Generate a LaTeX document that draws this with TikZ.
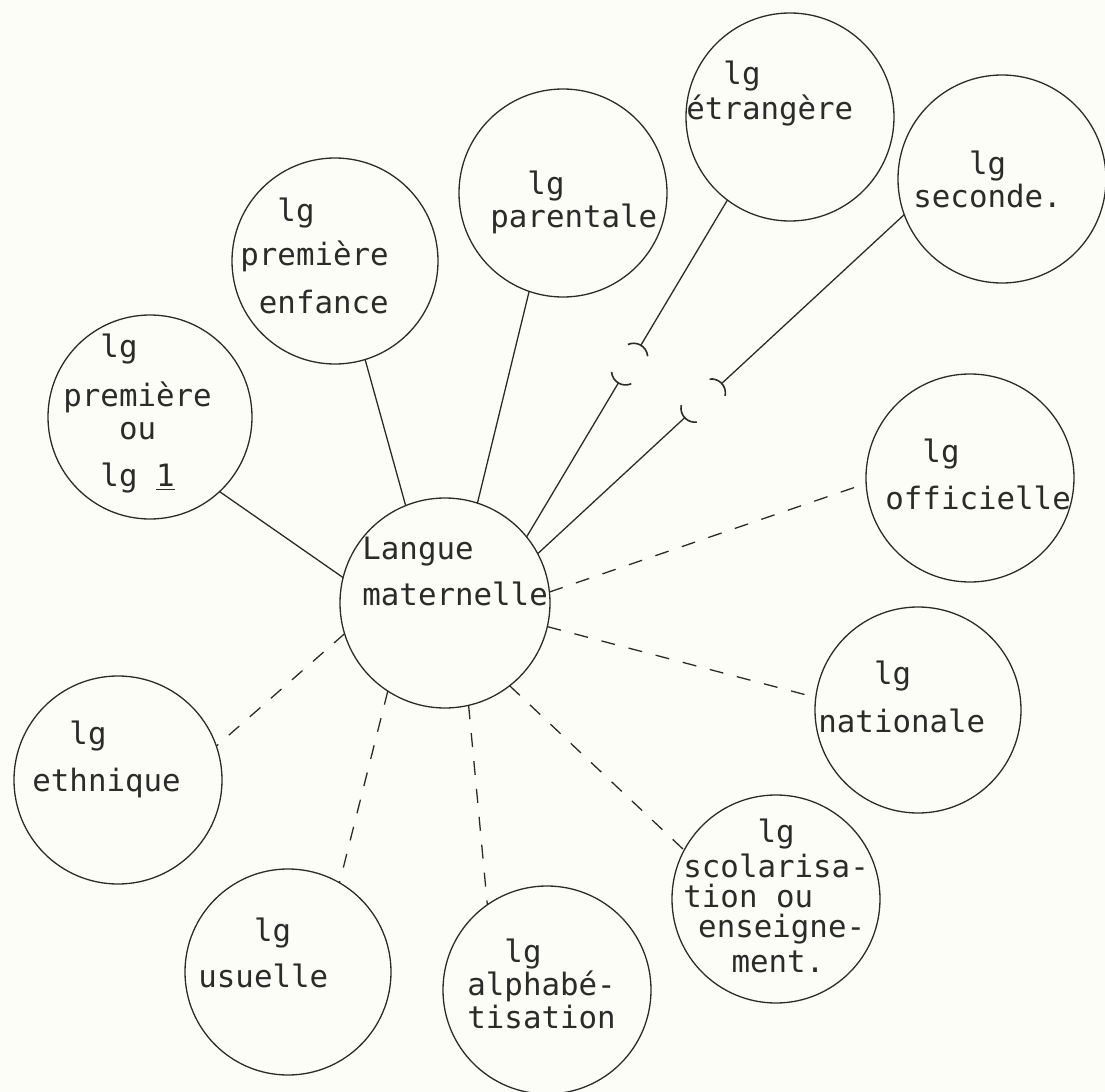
\documentclass[tikz,border=0pt]{standalone}
\usepackage{fontspec}
\setmonofont{DejaVu Sans Mono}
\usepackage{tikz}
\usetikzlibrary{calc}
\definecolor{encre}{HTML}{2B2B2B}
\definecolor{papier}{HTML}{FDFDF7}
% retrait en nombre de caracteres (police a chasse fixe)
\newcommand\ind[1]{\hspace*{#1\dimexpr.602em\relax}}
% petit arc au bout d'un trait coupe
\newcommand\coupure[2]{%
  \draw[lien, line width=0.8pt] let \p1=($(#2)-(#1)$), \n1={atan2(\y1,\x1)} in
    ($(#1)!7pt!(#2)$) ++(\n1+125:7pt) arc[start angle=\n1+125, end angle=\n1+235, radius=7pt];}

\begin{document}
\begin{tikzpicture}[x=0.5pt, y=-0.5pt,
  bulle/.style={circle, draw=encre, line width=0.65pt, minimum size=104pt,
                inner sep=0pt, outer sep=0pt},
  texte/.style={anchor=north west, align=left, inner sep=0pt, text=encre,
                font=\ttfamily\fontsize{15.4pt}{16.5pt}\selectfont},
  lien/.style={draw=encre, line width=0.65pt},
  pointille/.style={lien, dash pattern=on 7pt off 7pt}
]
  \fill[papier] (0,0) rectangle (1105,1092);
  \useasboundingbox (0,0) rectangle (1105,1092);

  \node[bulle, minimum size=105pt] (main) at (445,603) {};
  \node[bulle, minimum size=102pt] (prem) at (150,417) {};
  \node[bulle, minimum size=103pt] (enf)  at (335,261) {};
  \node[bulle] (par) at (563,193) {};
  \node[bulle] (etr) at (790,117) {};
  \node[bulle] (sec) at (1002,179) {};
  \node[bulle] (off) at (970,478) {};
  \node[bulle, minimum size=103pt] (nat) at (918,710) {};
  \node[bulle] (sco) at (776,899) {};
  \node[bulle] (alp) at (547,990) {};
  \node[bulle, minimum size=103pt] (usu) at (288,972) {};
  \node[bulle] (eth) at (118,780) {};

  \node[texte] (t-main) at (362,536.5) {Langue\\[6.5pt]maternelle};
  \node[texte] (t-prem) at (63,333.6) {\ind2lg\\[8pt]première\\\ind3ou\\[7pt]\ind2lg \underline{1}};
  \node[texte] (t-enf)  at (240,197.6) {\ind2lg\\[5.5pt]première\\[7.5pt]\ind1enfance};
  \node[texte] (t-par)  at (490,170.6) {\ind2lg\\parentale};
  \node[texte] (t-etr)  at (686,60.6)  {\ind2lg\\[1pt]étrangère};
  \node[texte] (t-sec)  at (913,150.6) {\ind3lg\\seconde.};
  \node[texte] (t-off)  at (885,438.6) {\ind2lg\\[7pt]officielle};
  \node[texte] (t-nat)  at (818,660.6) {\ind3lg\\[7.5pt]nationale};
  \node[texte] (t-sco)  at (683,818.6) {\ind4lg\\[1pt]scolarisa-\\[-1.5pt]tion ou\\[-1.5pt]\ind{0.8}enseigne-\\[1pt]\ind{2.6}ment.};
  \node[texte] (t-alp)  at (467,938.6) {\ind2lg\\alphabé-\\tisation};
  \node[texte] (t-usu)  at (198,917.6) {\ind3lg\\[6.5pt]usuelle};
  \node[texte] (t-eth)  at (32,720.6)  {\ind2lg\\[7pt]ethnique};

  % traits pleins
  \draw[lien] (prem.-47) -- (main.166);
  \draw[lien] (enf.-73) -- (main.112);
  \draw[lien] (par.-109) -- (main.72);

  % traits coupes
  \coordinate (e1) at ($(main.39)!0.457!(etr.-127)$);
  \coordinate (e2) at ($(main.39)!0.569!(etr.-127)$);
  \draw[lien] (main.39) -- (e1);
  \draw[lien] (e2) -- (etr.-127);
  \coupure{e1}{e2}
  \coupure{e2}{e1}

  \coordinate (s1) at ($(main.28)!0.401!(sec.-160)$);
  \coordinate (s2) at ($(main.28)!0.502!(sec.-160)$);
  \draw[lien] (main.28) -- (s1);
  \draw[lien] (s2) -- (sec.-160);
  \coupure{s1}{s2}
  \coupure{s2}{s1}

  % traits pointilles
  \draw[pointille] (main.6) -- (off.183);
  \draw[pointille] (main.-13) -- (nat.173);
  \draw[pointille] (main.-52) -- (sco.152);
  \draw[pointille] (main.-77) -- (alp.125);
  \draw[pointille] (main.-123) -- (usu.60);
  \draw[pointille] (main.197) -- (eth.19);
\end{tikzpicture}
\end{document}
